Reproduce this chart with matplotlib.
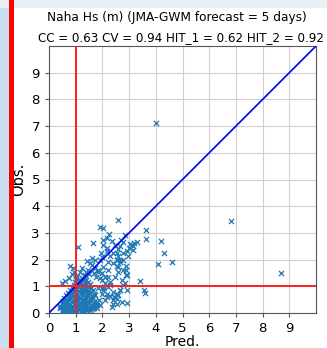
import matplotlib
matplotlib.use("Agg")
import matplotlib.pyplot as plt
from matplotlib.patches import Rectangle

title_line1 = "Naha Hs (m) (JMA-GWM forecast = 5 days)"
title_line2 = "CC = 0.63 CV = 0.94 HIT_1 = 0.62 HIT_2 = 0.92"
x_label = "Pred."
y_label = "Obs."
ticks = [0, 1, 2, 3, 4, 5, 6, 7, 8, 9]
threshold = 1.0

# dense core of the cloud (read row by row)
pred_core = [
    0.48, 0.60, 0.72, 0.83, 0.95, 1.06, 1.18, 1.30, 1.42, 1.55,
    0.42, 0.53, 0.65, 0.76, 0.88, 1.00, 1.12, 1.24, 1.36, 1.48, 1.60, 1.70,
    0.41, 0.52, 0.63, 0.75, 0.86, 0.97, 1.09, 1.21, 1.33, 1.45, 1.57, 1.69, 1.80,
    0.47, 0.58, 0.69, 0.80, 0.92, 1.03, 1.15, 1.27, 1.39, 1.51, 1.63, 1.76,
    0.52, 0.63, 0.74, 0.86, 0.98, 1.10, 1.22, 1.34, 1.46, 1.58, 1.72,
    0.57, 0.68, 0.80, 0.92, 1.04, 1.16, 1.28, 1.40, 1.52, 1.65,
    0.62, 0.74, 0.86, 0.98, 1.10, 1.22, 1.34, 1.46, 1.60, 1.72,
    0.70, 0.82, 0.94, 1.06, 1.18, 1.30, 1.42, 1.55, 1.68,
    0.77, 0.89, 1.01, 1.13, 1.25, 1.37, 1.50, 1.63,
    0.86, 0.98, 1.10, 1.22, 1.34, 1.46, 1.58,
    0.92, 1.04, 1.16, 1.28, 1.40, 1.52,
    0.97, 1.09, 1.21, 1.33, 1.45,
    1.02, 1.14, 1.26, 1.38,
]
obs_core = [
    0.06, 0.08, 0.05, 0.07, 0.06, 0.09, 0.05, 0.08, 0.10, 0.12,
    0.17, 0.14, 0.16, 0.13, 0.18, 0.15, 0.17, 0.14, 0.16, 0.19, 0.15, 0.20,
    0.27, 0.24, 0.26, 0.23, 0.28, 0.25, 0.27, 0.24, 0.26, 0.23, 0.28, 0.25, 0.30,
    0.36, 0.34, 0.37, 0.33, 0.35, 0.38, 0.34, 0.36, 0.33, 0.37, 0.35, 0.39,
    0.46, 0.44, 0.47, 0.43, 0.45, 0.48, 0.44, 0.46, 0.43, 0.47, 0.45,
    0.56, 0.54, 0.57, 0.53, 0.55, 0.58, 0.54, 0.56, 0.53, 0.57,
    0.66, 0.64, 0.67, 0.63, 0.65, 0.68, 0.64, 0.66, 0.63, 0.67,
    0.76, 0.74, 0.77, 0.73, 0.75, 0.78, 0.74, 0.76, 0.73,
    0.86, 0.84, 0.87, 0.83, 0.85, 0.88, 0.84, 0.86,
    0.96, 0.94, 0.97, 0.93, 0.95, 0.98, 0.94,
    1.06, 1.04, 1.07, 1.03, 1.05, 1.08,
    1.16, 1.14, 1.17, 1.13, 1.15,
    1.26, 1.24, 1.27, 1.23,
]

# scattered points outside the core
pred_spread = [
    4.00, 6.80, 8.70, 4.07, 4.18, 4.30, 4.60, 3.65, 3.65, 3.41, 3.57, 3.60,
    2.60, 1.91, 2.01, 2.26, 1.09, 1.66, 2.03, 2.16, 2.01, 2.16, 2.35, 2.47,
    2.60, 2.76, 2.86, 2.41, 2.54, 2.66, 1.60, 1.72, 1.90, 2.00, 2.20, 1.41,
    1.54, 2.91, 2.72, 2.54, 2.35, 2.47, 2.60, 2.41, 2.66, 2.91, 2.85, 2.72,
    2.91, 2.78, 2.60, 2.97, 2.91, 2.78, 3.16, 2.54, 2.41, 2.60, 2.47, 2.28,
    2.22, 1.97, 2.10, 2.22, 2.03, 1.85, 0.79, 0.91, 0.47, 1.04, 1.22, 1.35,
    1.47, 1.60, 1.72, 1.85, 1.97, 2.10, 2.22, 2.03, 2.16, 1.98, 2.18, 2.10,
    2.40, 2.28, 3.05, 3.15, 3.10, 3.00, 3.20, 2.65, 2.53, 2.58, 2.17, 2.28,
    2.78, 2.65, 2.55, 2.90, 2.90, 2.90, 2.78, 2.65, 2.53, 2.43, 2.55, 1.95,
    1.30, 1.15, 1.25, 1.40, 1.50, 1.70, 1.75, 1.90, 2.00, 0.60, 0.75, 0.85,
    0.95, 1.00, 1.88, 1.92, 1.80, 1.85, 2.05, 2.30, 2.40, 3.30, 2.70,
]
obs_spread = [
    7.10, 3.45, 1.50, 1.84, 2.68, 2.25, 1.92, 3.11, 2.78, 1.18, 0.86, 0.76,
    3.47, 3.23, 3.17, 2.97, 2.46, 2.63, 2.75, 2.82, 2.54, 2.44, 2.69, 2.54,
    2.38, 2.67, 2.92, 2.25, 2.00, 2.00, 2.06, 2.00, 2.00, 2.10, 1.90, 1.93,
    1.87, 0.36, 0.42, 0.33, 0.23, 0.61, 0.67, 0.80, 0.86, 0.86, 1.11, 1.24,
    1.43, 1.62, 1.74, 2.12, 2.31, 2.25, 2.35, 2.00, 1.87, 1.55, 1.36, 1.17,
    0.98, 1.49, 1.36, 1.62, 1.74, 1.62, 1.75, 1.68, 1.11, 1.36, 1.30, 1.43,
    1.62, 1.81, 1.68, 1.55, 1.24, 1.11, 1.36, 0.86, 0.73, 0.73, 0.61, 0.48,
    0.48, 0.63, 2.60, 2.50, 2.55, 2.45, 2.62, 2.50, 2.25, 2.12, 2.32, 2.13,
    1.97, 1.92, 1.75, 1.75, 1.42, 1.60, 1.04, 0.86, 0.73, 0.60, 0.54, 2.25,
    1.40, 1.55, 1.70, 1.55, 1.45, 1.50, 1.35, 1.30, 0.95, 1.20, 1.30, 1.45,
    1.55, 1.40, 0.50, 0.30, 0.20, 0.95, 0.95, 1.05, 0.35, 2.65, 2.75,
]

fig = plt.figure(figsize=(3.27, 3.48), dpi=100)

# decorative page border
fig.patches.append(Rectangle((0, 0), 9 / 327, 1, transform=fig.transFigure,
                             facecolor="#c9dff0", edgecolor="none", zorder=0))
fig.patches.append(Rectangle((0, 1 - 8 / 348), 1, 8 / 348, transform=fig.transFigure,
                             facecolor="#e6f0f6", edgecolor="none", zorder=0))
fig.patches.append(Rectangle((9 / 327, 0), 4.5 / 327, 1, transform=fig.transFigure,
                             facecolor="#ff0000", edgecolor="none", zorder=1))

ax = fig.add_axes([49 / 327, 35 / 348, 267 / 327, 267 / 348])

ax.scatter(pred_core, obs_core, marker="x", s=14, linewidths=1.0, color="#1f77b4", zorder=3)
ax.scatter(pred_spread, obs_spread, marker="x", s=14, linewidths=0.9, color="#1f77b4", zorder=3)

ax.plot([0, 10], [0, 10], color="blue", lw=1.2, zorder=4)
ax.axvline(threshold, color="#ff2020", lw=1.4, zorder=4)
ax.axhline(threshold, color="#ff2020", lw=1.4, zorder=4)

ax.set_xlim(0, 10)
ax.set_ylim(0, 10)
ax.set_xticks(ticks)
ax.set_yticks(ticks)
ax.tick_params(labelsize=9.5, length=3, color="#555555")
ax.grid(True, color="#d0d0d0", lw=0.8)
ax.set_axisbelow(True)
for s in ax.spines.values():
    s.set_color("#555555")

ax.set_xlabel(x_label, fontsize=10, labelpad=0)
ax.set_ylabel(y_label, fontsize=10.5, labelpad=4)

fig.text(0.54, 1 - 18 / 348, title_line1, ha="center", va="center", fontsize=8.7)
fig.text(0.555, 1 - 38 / 348, title_line2, ha="center", va="center", fontsize=8.6)

fig.savefig("out.png", dpi=100)
